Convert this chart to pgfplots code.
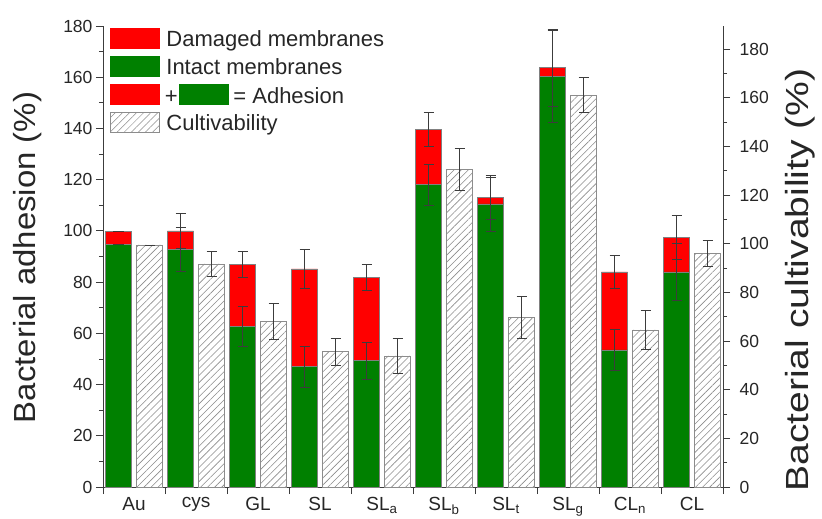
\documentclass[border=0pt]{standalone}
\usepackage{fontspec}
\setmainfont{Liberation Sans}
\usepackage{graphicx}
\usepackage{pgfplots}
\pgfplotsset{compat=1.18}
\usepackage{pgfplotstable}
\usetikzlibrary{patterns.meta}
\definecolor{dred}{RGB}{255,0,0}
\definecolor{dgreen}{RGB}{0,128,0}
\definecolor{axgray}{RGB}{60,60,60}

\pgfplotstableread{
x total green etot egreen
0 99.8 94.8 0 0
1 100.0 92.7 7.0 8.5
2 86.9 62.7 5.0 7.8
3 85.2 47.1 7.5 8.0
4 81.9 49.3 5.2 7.2
5 139.6 118.1 6.5 8.0
6 113.1 110.5 8.6 10.5
7 163.7 160.4 15.0 18.0
8 84.0 53.5 6.4 8.0
9 97.4 84.0 8.7 11.0
}\adhesion

\pgfplotstableread{
x cult ecult
0 99.5 0
1 91.7 5.0
2 68.0 7.5
3 55.7 5.5
4 53.9 7.0
5 130.6 8.8
6 69.7 8.8
7 161.1 7.3
8 64.6 8.2
9 96.0 5.4
}\cultiv

\pgfplotsset{
  errstyle/.style={forget plot, draw=none, mark=none,
    error bars/.cd, y dir=both, y explicit,
    error bar style={draw=axgray, line width=0.7pt},
    error mark options={rotate=90, draw=axgray, mark size=5pt, line width=0.7pt}},
  common/.style={
    scale only axis, width=620pt, height=461pt,
    xmin=-0.5, xmax=9.5, ymin=0,
    tick align=outside, major tick length=7pt, minor tick length=4pt,
    every tick/.style={axgray, line width=0.8pt},
    axis line style={axgray, line width=0.8pt},
    ticklabel style={font=\fontsize{17.5}{20}\selectfont, text=black!85},
    /pgf/number format/assume math mode=true,
  }
}

\begin{document}
\begin{tikzpicture}
\begin{axis}[common, name=main,
  ymax=180,
  axis x line*=bottom, axis y line*=left,
  ytick={0,20,...,180}, minor y tick num=1,
  xtick={-0.5,0.5,1.5,2.5,3.5,4.5,5.5,6.5,7.5,8.5,9.5},
  x tick label as interval,
  xticklabels={Au,cys,GL,SL,SL\textsubscript{a},SL\textsubscript{b},SL\textsubscript{t},SL\textsubscript{g},CL\textsubscript{n},CL},
  x tick label style={font=\fontsize{19}{22}\selectfont, text=black!85},
  ylabel={\scalebox{1.08}[1]{Bacterial adhesion (\%)}},
  every axis y label/.style={at={(axis description cs:-0.121,0.498)}, rotate=90, anchor=center,
     font=\fontsize{30.5}{34}\selectfont, text=black!85},
  legend style={at={(axis description cs:0,1)}, anchor=north west, xshift=7pt, yshift=-2pt,
     draw=none, fill=none, inner sep=0pt, outer sep=0pt, row sep=4.6pt,
     font=\fontsize{22}{26}\selectfont, text=black!85,
     nodes={inner sep=0pt, text height=16pt, text depth=4.6pt},
     /tikz/every odd column/.append style={column sep=7pt}},
  legend cell align=left,
]
\addplot[ybar, forget plot, bar width=0.42, bar shift=0pt, fill=dred, draw=black!50, line width=0.5pt]
  table[x expr=\thisrow{x}-0.25, y=total]{\adhesion};
\addplot[ybar, forget plot, bar width=0.42, bar shift=0pt, fill=dgreen, draw=black!50, line width=0.5pt]
  table[x expr=\thisrow{x}-0.25, y=green]{\adhesion};
\addplot[errstyle] table[x expr=\thisrow{x}-0.25, y=total, y error=etot]{\adhesion};
\addplot[errstyle] table[x expr=\thisrow{x}-0.25, y=green, y error=egreen]{\adhesion};

\addlegendimage{legend image code/.code={\fill[dred] (0pt,-7pt) rectangle (49pt,13pt);}}
\addlegendentry{Damaged membranes}
\addlegendimage{legend image code/.code={\fill[dgreen] (0pt,-7pt) rectangle (49pt,13pt);}}
\addlegendentry{Intact membranes}
\addlegendimage{legend image code/.code={\fill[dred] (0pt,-7pt) rectangle (49pt,13pt);
   \fill[dgreen, overlay] (69pt,-7pt) rectangle (118pt,13pt);
   \node[overlay, inner sep=0pt, anchor=center, font=\fontsize{22}{26}\selectfont] at (61pt,-0.5pt) {+};}}
\addlegendentry{\hspace*{67pt}= Adhesion}
\addlegendimage{legend image code/.code={\draw[draw=black!45, line width=0.5pt, pattern={Lines[angle=45,distance=5pt,line width=0.5pt]}, pattern color=black!45] (0.25pt,-6.75pt) rectangle (48.75pt,12.75pt);}}
\addlegendentry{Cultivability}
\end{axis}

\begin{axis}[common,
  ymax=189.5,
  axis x line=none, axis y line*=right,
  ytick={0,20,...,180}, minor y tick num=1,
  yticklabel style={xshift=6pt},
  ylabel={\scalebox{1.22}[1]{Bacterial cultivability (\%)}},
  every axis y label/.style={at={(axis description cs:1.124,0.449)}, rotate=90, anchor=center,
     font=\fontsize{32}{36}\selectfont, text=black!85},
]
\addplot[ybar, forget plot, bar width=0.42, bar shift=0pt, fill=white, draw=black!45, line width=0.6pt,
   postaction={pattern={Lines[angle=45,distance=5pt,line width=0.6pt]}, pattern color=black!45}]
  table[x expr=\thisrow{x}+0.25, y=cult]{\cultiv};
\addplot[errstyle] table[x expr=\thisrow{x}+0.25, y=cult, y error=ecult]{\cultiv};
\end{axis}
\pgfresetboundingbox
\path[use as bounding box] ([shift={(-103pt,-31pt)}]main.south west) rectangle ([shift={(99pt,26pt)}]main.north east);
\end{tikzpicture}
\end{document}
